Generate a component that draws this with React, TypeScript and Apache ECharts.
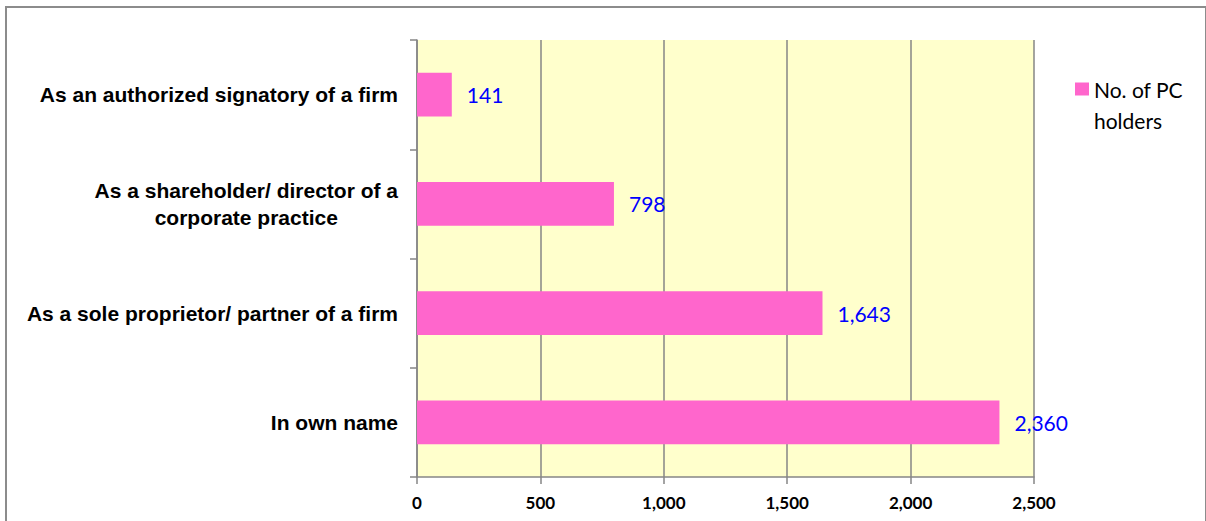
import React, { useEffect, useRef } from "react";
import * as echarts from "echarts";

const categories = [
  "In own name",
  "As a sole proprietor/ partner of a firm",
  "As a shareholder/ director of a\ncorporate practice",
  "As an authorized signatory of a firm",
];
const values = [2360, 1643, 798, 141];
const seriesName = "No. of PC holders";
const legendLines = ["No. of PC", "holders"];
const xTicks = { min: 0, max: 2500, interval: 500 };

export default function App() {
  const ref = useRef<HTMLDivElement>(null);
  useEffect(() => {
    document.body.style.margin = "0";
    const chart = echarts.init(ref.current!, null, { renderer: "svg" });
    chart.setOption({
      animation: false,
      backgroundColor: "#ffffff",
      graphic: [
        {
          type: "rect",
          shape: { x: 6, y: 7, width: 1200, height: 520 },
          style: { fill: "none", stroke: "#8c8c8c", lineWidth: 2 },
          silent: true,
        },
        {
          type: "text",
          x: 1094,
          y: 120,
          style: {
            text: legendLines[1],
            fontFamily: "Lato, 'Open Sans', sans-serif",
            fontSize: 21,
            fill: "#000",
            verticalAlign: "middle",
            align: "left",
          },
          silent: true,
        },
      ],
      legend: {
        show: true,
        left: 1075,
        top: 74,
        padding: 0,
        orient: "vertical",
        icon: "rect",
        itemWidth: 14,
        itemHeight: 13,
        formatter: () => legendLines[0],
        textStyle: {
          fontFamily: "Lato, 'Open Sans', sans-serif",
          fontSize: 21,
          color: "#000",
          lineHeight: 30,
        },
      },
      grid: { left: 417, right: 172, top: 40, bottom: 44, backgroundColor: "#FFFFCC", show: true, borderWidth: 0 },
      xAxis: {
        type: "value",
        min: xTicks.min,
        max: xTicks.max,
        interval: xTicks.interval,
        axisLine: { show: true, lineStyle: { color: "#868686", width: 1.5 } },
        axisTick: { show: true, length: 7, lineStyle: { color: "#868686", width: 1.5 } },
        splitLine: { show: true, lineStyle: { color: "#868686", width: 1.5 } },
        axisLabel: {
          margin: 17,
          fontFamily: "Lato, 'Liberation Sans', sans-serif",
          fontWeight: "bold",
          fontSize: 17,
          color: "#000",
          formatter: (v: number) => v.toLocaleString("en-US"),
        },
      },
      yAxis: {
        type: "category",
        data: categories,
        axisLine: { show: true, lineStyle: { color: "#868686", width: 1.5 } },
        axisTick: { show: true, length: 7, lineStyle: { color: "#868686", width: 1.5 } },
        splitLine: { show: false },
        axisLabel: {
          margin: 19,
          color: "#000",
          formatter: (v: string) =>
            v
              .split("\n")
              .map((s) => `{a|${s}}`)
              .join("\n"),
          rich: {
            a: {
              fontFamily: "'Liberation Sans', Arial, sans-serif",
              fontWeight: "bold",
              fontSize: 21,
              lineHeight: 27,
              color: "#000",
              align: "center",
            },
          },
        },
      },
      series: [
        {
          name: seriesName,
          type: "bar",
          data: values,
          barCategoryGap: "60%",
          itemStyle: { color: "#FF66CC" },
          label: {
            show: true,
            position: "right",
            distance: 15,
            color: "#0000FF",
            fontFamily: "Lato, 'Open Sans', sans-serif",
            fontSize: 21,
            formatter: (p: any) => Number(p.value).toLocaleString("en-US"),
          },
        },
      ],
    });
    return () => chart.dispose();
  }, []);
  return <div ref={ref} style={{ width: 1206, height: 521 }} />;
}
